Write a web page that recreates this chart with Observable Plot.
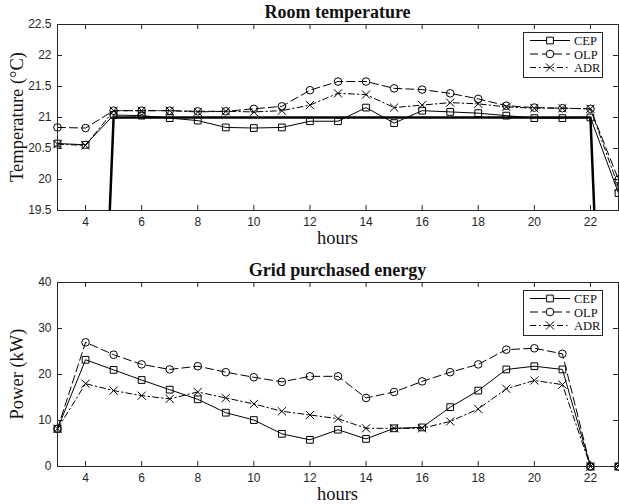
<!DOCTYPE html>
<html>
<head>
<meta charset="utf-8">
<script src="https://cdn.jsdelivr.net/npm/d3@7"></script>
<script src="https://cdn.jsdelivr.net/npm/@observablehq/plot@0.6"></script>
<style>
  html, body { margin: 0; padding: 0; background: #fff; }
  #wrap { position: relative; width: 619px; height: 504px; overflow: hidden; }
  #wrap > svg, #wrap > div { position: absolute; left: 0; }
  .lbl { position: absolute; font-family: "Liberation Serif", "Times New Roman", serif; color: #111; white-space: nowrap; line-height: 1; }
  .ttl { font-weight: bold; font-size: 18px; }
  .axl { font-size: 18.5px; }
</style>
</head>
<body>
<div id="wrap"></div>
<script>
// ---------- data ----------
const hours = [3, 4, 5, 6, 7, 8, 9, 10, 11, 12, 13, 14, 15, 16, 17, 18, 19, 20, 21, 22, 23];
const xTicks = [4, 6, 8, 10, 12, 14, 16, 18, 20, 22];
const tempTicks = [19.5, 20, 20.5, 21, 21.5, 22, 22.5];
const powerTicks = [0, 10, 20, 30, 40];
const seriesNames = ["CEP", "OLP", "ADR"];

const cepTemp = [20.58, 20.56, 21.04, 21.03, 20.99, 20.95, 20.84, 20.83, 20.84, 20.94, 20.94, 21.16, 20.91, 21.11, 21.09, 21.07, 21.03, 20.99, 20.99, 21.00, 19.78];
const olpTemp = [20.84, 20.83, 21.11, 21.11, 21.11, 21.10, 21.10, 21.14, 21.18, 21.44, 21.58, 21.58, 21.47, 21.45, 21.39, 21.30, 21.19, 21.16, 21.15, 21.14, 20.00];
const adrTemp = [20.57, 20.55, 21.11, 21.11, 21.11, 21.09, 21.10, 21.09, 21.11, 21.20, 21.39, 21.37, 21.16, 21.20, 21.24, 21.22, 21.17, 21.15, 21.15, 21.14, 19.88];
const comfortTemp = [10, 10, 21, 21, 21, 21, 21, 21, 21, 21, 21, 21, 21, 21, 21, 21, 21, 21, 21, 21, 10];

const cepPower = [8.2, 23.2, 21.0, 18.8, 16.7, 14.6, 11.7, 10.1, 7.1, 5.8, 8.0, 6.0, 8.3, 8.5, 12.9, 16.5, 21.1, 21.8, 21.1, 0, 0];
const olpPower = [8.2, 27.0, 24.3, 22.2, 21.1, 21.8, 20.5, 19.4, 18.4, 19.6, 19.6, 14.9, 16.2, 18.5, 20.5, 22.2, 25.4, 25.7, 24.5, 0, 0];
const adrPower = [8.2, 18.0, 16.5, 15.4, 14.7, 16.2, 14.9, 13.6, 12.0, 11.2, 10.4, 8.3, 8.3, 8.3, 9.8, 12.5, 16.9, 18.7, 17.8, 0, 0];

// ---------- styles ----------
const styles = {
  CEP: { dash: null, symbol: "square" },
  OLP: { dash: "8,4", symbol: "circle" },
  ADR: { dash: "6,3,1.5,3", symbol: "times" }
};
const ink = "#262626";

function tableFrom(values) {
  const out = [];
  seriesNames.forEach((s, i) => hours.forEach((h, j) => out.push({ series: s, hour: h, value: values[i][j] })));
  return out;
}

const W = 619, ML = 57, MR = 1;
const tickLen = 5;

function chart({ height, marginTop, marginBottom, yDomain, yTicks, data, extra }) {
  const ph = height - marginTop - marginBottom;
  const pw = W - ML - MR;
  const marks = [];
  if (extra) marks.push(...extra);
  for (const s of seriesNames) {
    const d = data.filter(r => r.series === s);
    marks.push(Plot.line(d, { x: "hour", y: "value", stroke: "black", strokeWidth: 1, strokeDasharray: styles[s].dash }));
  }
  for (const s of seriesNames) {
    const d = data.filter(r => r.series === s);
    marks.push(Plot.dot(d, { x: "hour", y: "value", symbol: () => styles[s].symbol, r: 3.8, stroke: "black", strokeWidth: 1, fill: "none" }));
  }
  return Plot.plot({
    width: W, height, marginLeft: ML, marginRight: MR, marginTop, marginBottom,
    x: { domain: [3, 23] },
    y: { domain: yDomain },
    symbol: { type: "identity" },
    style: { fontFamily: "'Liberation Sans', Arial, Helvetica, sans-serif", fontSize: "12px", color: ink, background: "transparent", overflow: "visible" },
    marks: [
      Plot.ruleX(xTicks, { x: d => d, stroke: ink, insetTop: ph - tickLen }),
      Plot.ruleX(xTicks, { x: d => d, stroke: ink, insetBottom: ph - tickLen }),
      Plot.ruleY(yTicks, { y: d => d, stroke: ink, insetRight: pw - tickLen }),
      Plot.ruleY(yTicks, { y: d => d, stroke: ink, insetLeft: pw - tickLen }),
      Plot.axisX({ ticks: xTicks, tickSize: 0, tickPadding: 7, label: null, fontSize: 12, fill: ink }),
      Plot.axisY({ ticks: yTicks, tickSize: 0, tickPadding: 6, label: null, fontSize: 12, fill: ink, tickFormat: d => String(d) }),
      ...marks,
      Plot.frame({ stroke: ink, strokeWidth: 1 })
    ]
  });
}

const wrap = document.getElementById("wrap");

// top chart
const comfortData = hours.map((h, i) => ({ hour: h, value: comfortTemp[i] }));
const topChart = chart({
  height: 250, marginTop: 24, marginBottom: 40,
  yDomain: [19.5, 22.5], yTicks: tempTicks,
  data: tableFrom([cepTemp, olpTemp, adrTemp]),
  extra: [Plot.line(comfortData, { x: "hour", y: "value", stroke: "black", strokeWidth: 2.5, clip: true })]
});
topChart.style.top = "0px";
wrap.appendChild(topChart);

// bottom chart
const bottomChart = chart({
  height: 254, marginTop: 32, marginBottom: 38,
  yDomain: [0, 40], yTicks: powerTicks,
  data: tableFrom([cepPower, olpPower, adrPower])
});
bottomChart.style.top = "250px";
wrap.appendChild(bottomChart);

// legends
function legend(topY) {
  const svg = d3.select(wrap).append("svg")
    .attr("width", 80).attr("height", 46)
    .style("left", "523px").style("top", topY + "px").style("overflow", "visible");
  svg.append("rect").attr("x", 0.5).attr("y", 0.5).attr("width", 79).attr("height", 45)
    .attr("fill", "white").attr("stroke", ink);
  const symMap = { square: d3.symbolSquare, circle: d3.symbolCircle, times: d3.symbolTimes };
  seriesNames.forEach((s, i) => {
    const y = 8.5 + i * 13.5;
    svg.append("line").attr("x1", 7).attr("x2", 47).attr("y1", y).attr("y2", y)
      .attr("stroke", "black").attr("stroke-width", 1).attr("stroke-dasharray", styles[s].dash);
    svg.append("path").attr("transform", `translate(27,${y})`)
      .attr("d", d3.symbol(symMap[styles[s].symbol], 3.8 * 3.8 * Math.PI)())
      .attr("fill", "white").attr("stroke", "black");
    svg.append("text").attr("x", 51).attr("y", y + 4.5).text(s)
      .attr("font-family", "'Liberation Serif', 'Times New Roman', serif").attr("font-size", 12.5).attr("fill", "#111");
  });
}
legend(32);
legend(290);

// titles and axis labels
function label(text, cls, x, y, rotate) {
  const d = document.createElement("div");
  d.className = "lbl " + cls;
  d.textContent = text;
  d.style.left = x + "px";
  d.style.top = y + "px";
  d.style.transform = "translate(-50%, -50%)" + (rotate ? " rotate(-90deg)" : "");
  wrap.appendChild(d);
}
label("Room temperature", "ttl", 337.5, 12);
label("hours", "axl", 337.5, 238);
label("Temperature (°C)", "axl", 17, 117, true);
label("Grid purchased energy", "ttl", 337.5, 270);
label("hours", "axl", 337.5, 494);
label("Power (kW)", "axl", 17, 374, true);
</script>
</body>
</html>
